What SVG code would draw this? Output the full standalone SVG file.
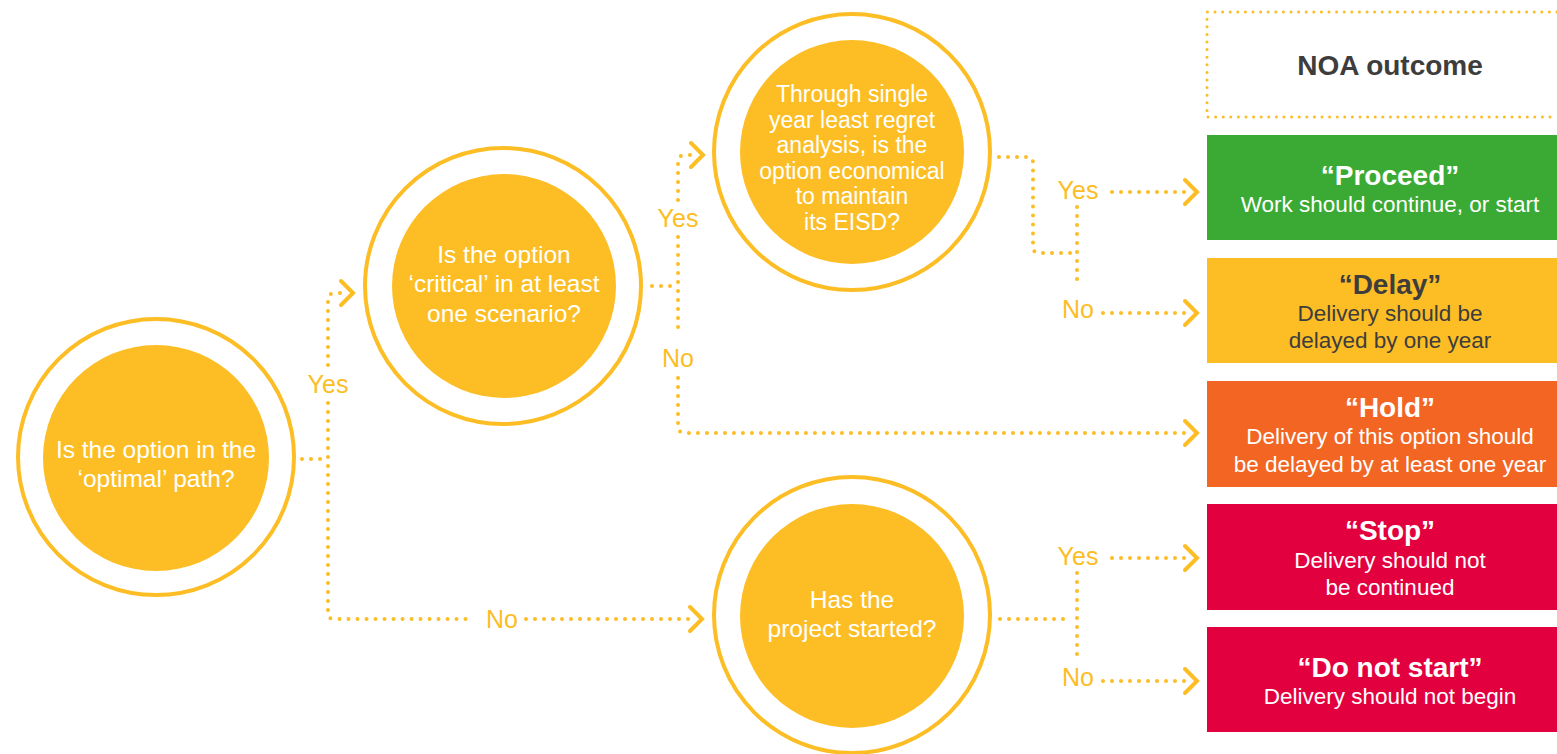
<svg xmlns="http://www.w3.org/2000/svg" width="1557" height="754" viewBox="0 0 1557 754">
<style>
.ring{fill:none;stroke:#FCBD25;stroke-width:4}
.core{fill:#FDBE25}
.qt{font-family:"Liberation Sans",Arial,sans-serif;fill:#ffffff;text-anchor:middle}
.dot{fill:none;stroke:#FCBD25;stroke-width:4;stroke-linecap:round;stroke-linejoin:round;stroke-dasharray:0 9}
.chev{fill:none;stroke:#FCBD25;stroke-width:4;stroke-linecap:round;stroke-linejoin:miter}
.lbl{font-family:"Liberation Sans",Arial,sans-serif;font-size:25px;fill:#FCBD25;text-anchor:middle}
.ttl{font-family:"Liberation Sans",Arial,sans-serif;font-size:28px;font-weight:bold;text-anchor:middle}
.sub{font-family:"Liberation Sans",Arial,sans-serif;font-size:22.5px;text-anchor:middle}
</style>
<rect width="1557" height="754" fill="#ffffff"/>

<g id="q1">
<circle class="ring" cx="156" cy="457" r="138"/>
<circle class="core" cx="156" cy="458" r="113"/>
<text class="qt" font-size="24.5" x="156" y="458">Is the option in the</text>
<text class="qt" font-size="24.5" x="156" y="487">‘optimal’ path?</text>
</g>

<g id="q2">
<circle class="ring" cx="503" cy="286" r="138"/>
<circle class="core" cx="504" cy="286" r="112"/>
<text class="qt" font-size="24.5" x="504" y="263">Is the option</text>
<text class="qt" font-size="24.5" x="504" y="292">‘critical’ in at least</text>
<text class="qt" font-size="24.5" x="504" y="322">one scenario?</text>
</g>

<g id="q3">
<circle class="ring" cx="852" cy="152" r="138"/>
<circle class="core" cx="852" cy="152" r="112"/>
<text class="qt" font-size="23" x="852" y="102">Through single</text>
<text class="qt" font-size="23" x="852" y="128">year least regret</text>
<text class="qt" font-size="23" x="852" y="153">analysis, is the</text>
<text class="qt" font-size="23" x="852" y="179">option economical</text>
<text class="qt" font-size="23" x="852" y="204">to maintain</text>
<text class="qt" font-size="23" x="852" y="230">its EISD?</text>
</g>

<g id="q4">
<circle class="ring" cx="852" cy="615" r="138"/>
<circle class="core" cx="852" cy="616" r="112"/>
<text class="qt" font-size="24.5" x="852" y="608">Has the</text>
<text class="qt" font-size="24.5" x="852" y="637">project started?</text>
</g>

<g id="noa">
<path d="M1557,12 H1207 V117 H1557" fill="none" stroke="#FCBD25" stroke-width="3" stroke-linecap="round" stroke-dasharray="0 7.6"/>
<text font-family="'Liberation Sans',Arial,sans-serif" font-size="28" font-weight="bold" fill="#3d3d3d" text-anchor="middle" x="1390" y="75">NOA outcome</text>
</g>

<g id="proceed">
<rect x="1207" y="135" width="350" height="105" fill="#3AAA35"/>
<text class="ttl" fill="#ffffff" x="1390" y="185">“Proceed”</text>
<text class="sub" fill="#ffffff" x="1390" y="212">Work should continue, or start</text>
</g>

<g id="delay">
<rect x="1207" y="258" width="350" height="105" fill="#FDBE25"/>
<text class="ttl" fill="#3d3d3d" x="1390" y="294">“Delay”</text>
<text class="sub" fill="#3d3d3d" x="1390" y="321">Delivery should be</text>
<text class="sub" fill="#3d3d3d" x="1390" y="348">delayed by one year</text>
</g>

<g id="hold">
<rect x="1207" y="381" width="350" height="106" fill="#F26522"/>
<text class="ttl" fill="#ffffff" x="1390" y="417">“Hold”</text>
<text class="sub" fill="#ffffff" x="1390" y="444">Delivery of this option should</text>
<text class="sub" fill="#ffffff" x="1390" y="472">be delayed by at least one year</text>
</g>

<g id="stop">
<rect x="1207" y="504" width="350" height="106" fill="#E3003F"/>
<text class="ttl" fill="#ffffff" x="1390" y="540">“Stop”</text>
<text class="sub" fill="#ffffff" x="1390" y="568">Delivery should not</text>
<text class="sub" fill="#ffffff" x="1390" y="595">be continued</text>
</g>

<g id="donotstart">
<rect x="1207" y="627" width="350" height="105" fill="#E3003F"/>
<text class="ttl" fill="#ffffff" x="1390" y="677">“Do not start”</text>
<text class="sub" fill="#ffffff" x="1390" y="704">Delivery should not begin</text>
</g>

<g id="connectors">
<!-- q1 -->
<path class="dot" d="M302,459 H328"/>
<path class="dot" d="M328,365 V300 Q328,293 335,293 H347"/>
<path class="chev" d="M341,281 L353,293 L341,305"/>
<path class="dot" d="M328,403 V613 Q328,619 334,619 H472"/>
<path class="dot" d="M526,619 H697"/>
<path class="chev" d="M690,607 L702,619 L690,631"/>
<text class="lbl" x="328" y="393">Yes</text>
<text class="lbl" x="502" y="628">No</text>
<!-- q2 -->
<path class="dot" d="M652,286 H678"/>
<path class="dot" d="M678,200 V162 Q678,155 685,155 H697"/>
<path class="chev" d="M691,143 L703,155 L691,167"/>
<path class="dot" d="M678,237 V334"/>
<path class="dot" d="M678,378 V426 Q678,433 685,433 H1192"/>
<path class="chev" d="M1185,421 L1197,433 L1185,445"/>
<text class="lbl" x="678" y="227">Yes</text>
<text class="lbl" x="678" y="367">No</text>
<!-- q3 -->
<path class="dot" d="M999,157 H1027 Q1033,157 1033,163 V247 Q1033,253 1039,253 H1075"/>
<path class="dot" d="M1077,207 V288"/>
<path class="dot" d="M1112,192 H1192"/>
<path class="chev" d="M1185,180 L1197,192 L1185,204"/>
<path class="dot" d="M1103,313 H1192"/>
<path class="chev" d="M1185,301 L1197,313 L1185,325"/>
<text class="lbl" x="1078" y="199">Yes</text>
<text class="lbl" x="1078" y="318">No</text>
<!-- q4 -->
<path class="dot" d="M1000,619 H1072"/>
<path class="dot" d="M1077,573 V655"/>
<path class="dot" d="M1112,558 H1192"/>
<path class="chev" d="M1185,546 L1197,558 L1185,570"/>
<path class="dot" d="M1103,681 H1192"/>
<path class="chev" d="M1185,669 L1197,681 L1185,693"/>
<text class="lbl" x="1078" y="565">Yes</text>
<text class="lbl" x="1078" y="686">No</text>
</g>
</svg>
